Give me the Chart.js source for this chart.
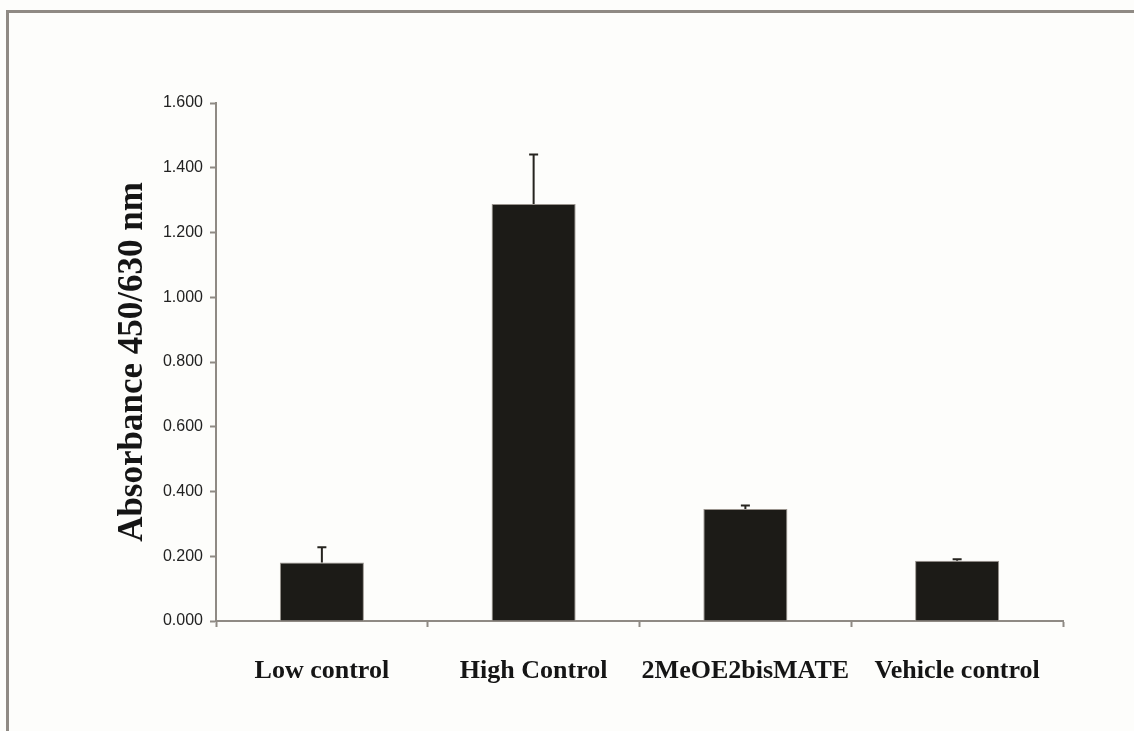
<!DOCTYPE html>
<html>
<head>
<meta charset="utf-8">
<script src="https://cdn.jsdelivr.net/npm/chart.js@4.4.0/dist/chart.umd.min.js"></script>
<style>
  html, body { margin: 0; padding: 0; background: #fdfdfb; }
  #wrap { position: relative; width: 1134px; height: 731px; overflow: hidden; }
  #frame { position: absolute; left: 6px; top: 10px; right: -10px; bottom: -10px;
           border-top: 3px solid #8f8a84; border-left: 3px solid #8f8a84; }
  canvas { position: absolute; left: 0; top: 0; }
</style>
</head>
<body>
<div id="wrap">
  <div id="frame"></div>
  <canvas id="chart" width="1134" height="731"></canvas>
</div>
<script>
// values
var groups = ['Low control', 'High Control', '2MeOE2bisMATE', 'Vehicle control'];
var absorbance = [0.181, 1.288, 0.346, 0.186];
var errUp = [0.047, 0.153, 0.011, 0.005];
var yTicks = [0, 0.2, 0.4, 0.6, 0.8, 1.0, 1.2, 1.4, 1.6];

var axisGray = '#8f8a84';
var serif = '"Liberation Serif", "Times New Roman", serif';

// upward-only error bars, placed through the chart's scales
var errorBars = {
  id: 'errorBars',
  afterDatasetsDraw: function(chart) {
    var ctx = chart.ctx;
    var yScale = chart.scales.y;
    var meta = chart.getDatasetMeta(0);
    ctx.save();
    ctx.strokeStyle = '#26241f';
    ctx.lineWidth = 2;
    for (var i = 0; i < absorbance.length; i++) {
      var x = meta.data[i].x;
      var yBar = yScale.getPixelForValue(absorbance[i]);
      var yTop = yScale.getPixelForValue(absorbance[i] + errUp[i]);
      ctx.beginPath();
      ctx.moveTo(x, yBar);
      ctx.lineTo(x, yTop);
      ctx.moveTo(x - 4.5, yTop);
      ctx.lineTo(x + 4.5, yTop);
      ctx.stroke();
    }
    ctx.restore();
  }
};

var ctx = document.getElementById('chart').getContext('2d');
var chart = new Chart(ctx, {
  type: 'bar',
  data: {
    labels: groups,
    datasets: [{
      data: absorbance,
      backgroundColor: '#1c1b17',
      borderColor: '#9a948e',
      borderWidth: 1,
      categoryPercentage: 1,
      barPercentage: 0.397
    }]
  },
  plugins: [errorBars],
  options: {
    responsive: false,
    animation: false,
    layout: { padding: { left: 0, top: 103, right: 71, bottom: 0 } },
    plugins: { legend: { display: false }, tooltip: { enabled: false } },
    scales: {
      x: {
        grid: { drawOnChartArea: false, tickLength: 6, tickWidth: 2, color: axisGray, offset: true },
        border: { color: axisGray, width: 2 },
        ticks: {
          color: '#151515',
          padding: 29,
          autoSkip: false,
          maxRotation: 0,
          font: { family: serif, size: 26, weight: 'bold' }
        },
        afterFit: function(scale) { scale.height = 110; }
      },
      y: {
        min: 0,
        max: 1.6,
        afterBuildTicks: function(scale) {
          scale.ticks = yTicks.map(function(v) { return { value: v }; });
        },
        grid: { drawOnChartArea: false, tickLength: 6, tickWidth: 2, color: axisGray },
        border: { color: axisGray, width: 2 },
        ticks: {
          color: '#222',
          padding: 7,
          font: { family: '"Liberation Sans", Arial, sans-serif', size: 16 },
          callback: function(v) { return Number(v).toFixed(3); }
        },
        title: {
          display: true,
          text: 'Absorbance 450/630 nm',
          color: '#151515',
          padding: { top: 115, bottom: 0 },
          font: { family: serif, size: 35, weight: 'bold', lineHeight: 1 }
        },
        afterFit: function(scale) { scale.width = 216; }
      }
    }
  }
});
</script>
</body>
</html>
